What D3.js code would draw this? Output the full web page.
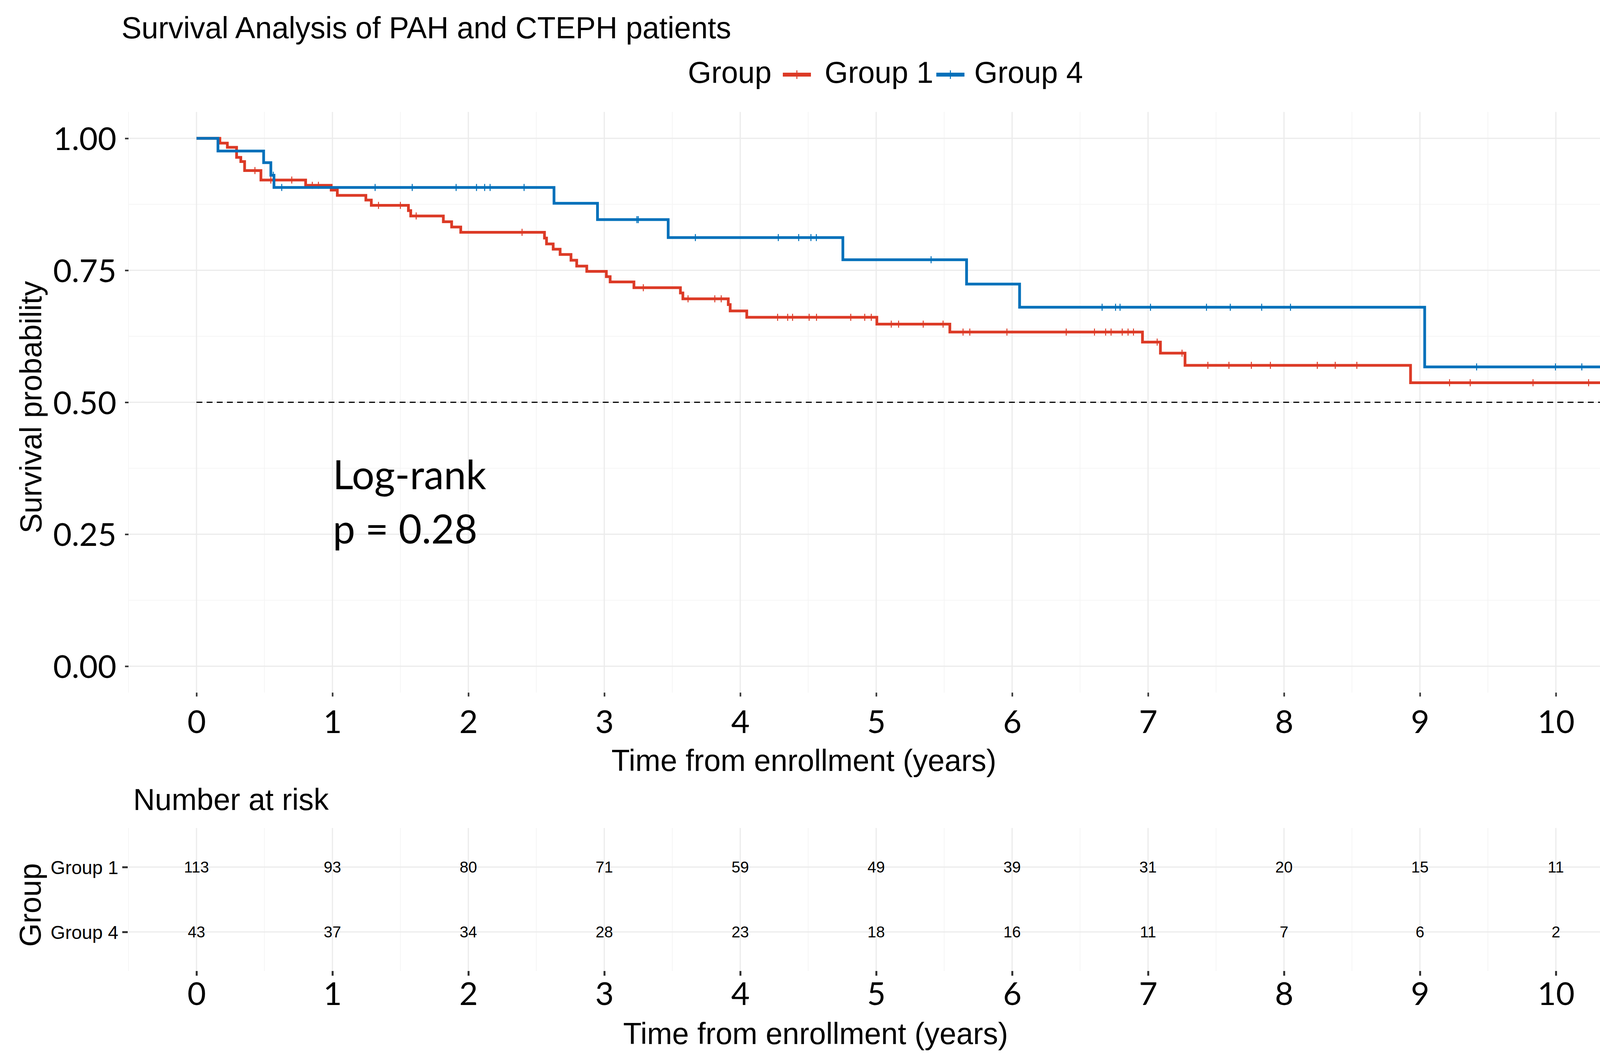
<!DOCTYPE html>
<html>
<head>
<meta charset="utf-8">
<script src="https://cdn.jsdelivr.net/npm/d3@7"></script>
<style>
  html, body { margin: 0; padding: 0; background: #fff; overflow: hidden; }
  svg { display: block; }
  .sans { font-family: 'Liberation Sans', Arial, sans-serif; }
  .num { font-family: Lato, 'Open Sans', sans-serif; }
</style>
</head>
<body>
<svg id="chart" width="4202" height="2723"></svg>
<script>
// ---- data ----
var groups = ['Group 1', 'Group 4'];
var colors = ['#DC3A26', '#0070BA'];

// Group 1 (PAH): event times (years) and survival after each drop
var g1Time = [0, 0.172, 0.227, 0.295, 0.326, 0.354, 0.474, 0.803, 0.991, 1.036, 1.246, 1.286, 1.559, 1.576,
  1.816, 1.877, 1.944, 2.560, 2.575, 2.624, 2.675, 2.755, 2.797, 2.871, 3.015, 3.043, 3.218, 3.560, 3.578,
  3.912, 3.926, 4.048, 5.005, 5.542, 6.959, 7.091, 7.272, 8.931];
var g1Surv = [1, 0.991, 0.983, 0.964, 0.956, 0.939, 0.921, 0.911, 0.902, 0.892, 0.883, 0.873, 0.863, 0.853,
  0.842, 0.832, 0.822, 0.811, 0.800, 0.790, 0.780, 0.769, 0.758, 0.748, 0.738, 0.728, 0.717, 0.707, 0.696,
  0.685, 0.673, 0.661, 0.648, 0.633, 0.614, 0.593, 0.570, 0.537];
var g1Censor = [0.430, 0.547, 0.701, 0.852, 0.897, 1.339, 1.50, 1.616, 2.395, 3.287, 3.616, 3.813, 3.860,
  4.275, 4.349, 4.385, 4.507, 4.561, 4.813, 4.916, 4.964, 5.111, 5.165, 5.346, 5.492, 5.639, 5.689, 5.962,
  6.398, 6.606, 6.688, 6.728, 6.810, 6.853, 6.893, 7.067, 7.25, 7.44, 7.595, 7.76, 7.90, 8.245, 8.377, 8.536,
  9.218, 9.370, 9.832, 10.241, 10.416, 10.458];

// Group 4 (CTEPH)
var g4Time = [0, 0.158, 0.494, 0.547, 0.570, 2.63, 2.95, 3.47, 4.755, 5.665, 6.055, 9.035];
var g4Surv = [1, 0.976, 0.954, 0.930, 0.907, 0.877, 0.846, 0.812, 0.770, 0.724, 0.680, 0.567];
var g4Censor = [0.565, 0.627, 1.314, 1.587, 1.91, 2.06, 2.12, 2.16, 2.41, 3.24, 3.25, 3.67, 4.28, 4.43,
  4.52, 4.56, 5.404, 6.662, 6.761, 6.794, 7.018, 7.43, 7.605, 7.836, 8.048, 9.417, 9.997, 10.191];

var lastTime = [10.5, 10.5];

var riskTimes = [0, 1, 2, 3, 4, 5, 6, 7, 8, 9, 10];
var g1Risk = [113, 93, 80, 71, 59, 49, 39, 31, 20, 15, 11];
var g4Risk = [43, 37, 34, 28, 23, 18, 16, 11, 7, 6, 2];

var xTicks = [0, 1, 2, 3, 4, 5, 6, 7, 8, 9, 10];
var yTicks = [0, 0.25, 0.5, 0.75, 1];
var medianLine = 0.5;
var testName = 'Log-rank', pText = 'p = 0.28';

var times = [g1Time, g4Time], survs = [g1Surv, g4Surv], censors = [g1Censor, g4Censor], risks = [g1Risk, g4Risk];

// ---- layout ----
var svg = d3.select('#chart');
var pLeft = 329, pRight = 4157, pTop = 286.5, pBottom = 1772.5;
var tTop = 2119, tBottom = 2485;
var major = '#EBEBEB', minor = '#F4F4F4';

var x = d3.scaleLinear().domain([-0.5, 10.5]).range([pLeft, pRight]);
var y = d3.scaleLinear().domain([-0.05, 1.05]).range([pBottom, pTop]);
var rowY = d3.scalePoint().domain(groups).range([2219, 2385]);

svg.append('rect').attr('width', 4202).attr('height', 2723).attr('fill', '#fff');

// title
svg.append('text').attr('class', 'sans').attr('x', 311).attr('y', 98)
  .attr('font-size', 77).text('Survival Analysis of PAH and CTEPH patients');

// legend
var legend = svg.append('g').attr('class', 'sans').attr('font-size', 77);
legend.append('text').attr('x', 1761).attr('y', 212).text('Group');
var keyX = [2004, 2397], labX = [2111, 2494];
groups.forEach(function(g, i) {
  legend.append('line').attr('x1', keyX[i]).attr('x2', keyX[i] + 72).attr('y1', 191).attr('y2', 191)
    .attr('stroke', colors[i]).attr('stroke-width', 10);
  legend.append('line').attr('x1', keyX[i] + 36).attr('x2', keyX[i] + 36).attr('y1', 180).attr('y2', 202)
    .attr('stroke', colors[i]).attr('stroke-width', 2.5);
  legend.append('text').attr('x', labX[i]).attr('y', 212).text(g);
});

// grid - survival panel
var grid = svg.append('g');
d3.range(-0.5, 10.6, 1).forEach(function(v) {
  grid.append('line').attr('x1', x(v)).attr('x2', x(v)).attr('y1', pTop).attr('y2', pBottom)
    .attr('stroke', minor).attr('stroke-width', 1.8);
});
[0.125, 0.375, 0.625, 0.875].forEach(function(v) {
  grid.append('line').attr('x1', pLeft).attr('x2', pRight).attr('y1', y(v)).attr('y2', y(v))
    .attr('stroke', minor).attr('stroke-width', 1.8);
});
xTicks.forEach(function(v) {
  grid.append('line').attr('x1', x(v)).attr('x2', x(v)).attr('y1', pTop).attr('y2', pBottom)
    .attr('stroke', major).attr('stroke-width', 3);
});
yTicks.forEach(function(v) {
  grid.append('line').attr('x1', pLeft).attr('x2', pRight).attr('y1', y(v)).attr('y2', y(v))
    .attr('stroke', major).attr('stroke-width', 3);
});

// median line
svg.append('line').attr('x1', x(0)).attr('x2', pRight).attr('y1', y(medianLine)).attr('y2', y(medianLine))
  .attr('stroke', '#000').attr('stroke-width', 3).attr('stroke-dasharray', '15,11');

// curves
svg.append('clipPath').attr('id', 'clip').append('rect')
  .attr('x', pLeft).attr('y', pTop).attr('width', pRight - pLeft).attr('height', pBottom - pTop);
var plot = svg.append('g').attr('clip-path', 'url(#clip)');
var line = d3.line().x(function(d) { return x(d[0]); }).y(function(d) { return y(d[1]); }).curve(d3.curveStepAfter);

function survAt(i, t) {
  var k = d3.bisectRight(times[i], t) - 1;
  return survs[i][Math.max(k, 0)];
}

groups.forEach(function(g, i) {
  var pts = times[i].map(function(t, k) { return [t, survs[i][k]]; });
  pts.push([lastTime[i], survs[i][survs[i].length - 1]]);
  plot.append('path').attr('d', line(pts)).attr('fill', 'none')
    .attr('stroke', colors[i]).attr('stroke-width', 7);
  plot.selectAll('.c' + i).data(censors[i]).enter().append('line')
    .attr('x1', function(d) { return x(d); }).attr('x2', function(d) { return x(d); })
    .attr('y1', function(d) { return y(survAt(i, d)) - 9; })
    .attr('y2', function(d) { return y(survAt(i, d)) + 9; })
    .attr('stroke', colors[i]).attr('stroke-width', 2.5);
});

// axes - survival panel
var yAxis = svg.append('g').attr('transform', 'translate(' + pLeft + ',0)')
  .call(d3.axisLeft(y).tickValues(yTicks).tickFormat(d3.format('.2f')).tickSize(9).tickPadding(22));
var xAxis = svg.append('g').attr('transform', 'translate(0,' + pBottom + ')')
  .call(d3.axisBottom(x).tickValues(xTicks).tickFormat(d3.format('d')).tickSize(10));
[yAxis, xAxis].forEach(function(a) {
  a.select('.domain').remove();
  a.selectAll('line').attr('stroke', '#333').attr('stroke-width', 4);
  a.selectAll('text').attr('class', 'num').attr('font-size', 82).attr('fill', '#000');
});
yAxis.selectAll('text').attr('dy', '0.36em');
xAxis.selectAll('text').attr('y', 103).attr('dy', null);

svg.append('text').attr('class', 'sans').attr('font-size', 77).attr('text-anchor', 'middle')
  .attr('x', 2058).attr('y', 1973).text('Time from enrollment (years)');
svg.append('text').attr('class', 'sans').attr('font-size', 77).attr('text-anchor', 'middle')
  .attr('transform', 'translate(106,1042) rotate(-90)').text('Survival probability');

// p-value annotation
var ann = svg.append('text').attr('class', 'num').attr('font-size', 102).attr('x', 852).attr('y', 1252);
ann.append('tspan').attr('x', 852).text(testName);
ann.append('tspan').attr('x', 852).attr('dy', 139).text(pText);

// ---- risk table ----
svg.append('text').attr('class', 'sans').attr('font-size', 77).attr('x', 341).attr('y', 2073).text('Number at risk');

var tg = svg.append('g');
d3.range(-0.5, 10.6, 1).forEach(function(v) {
  tg.append('line').attr('x1', x(v)).attr('x2', x(v)).attr('y1', tTop).attr('y2', tBottom)
    .attr('stroke', minor).attr('stroke-width', 1.8);
});
xTicks.forEach(function(v) {
  tg.append('line').attr('x1', x(v)).attr('x2', x(v)).attr('y1', tTop).attr('y2', tBottom)
    .attr('stroke', major).attr('stroke-width', 3);
});
groups.forEach(function(g) {
  tg.append('line').attr('x1', pLeft).attr('x2', pRight).attr('y1', rowY(g)).attr('y2', rowY(g))
    .attr('stroke', major).attr('stroke-width', 3);
});

groups.forEach(function(g, i) {
  tg.selectAll('.r' + i).data(riskTimes).enter().append('text')
    .attr('class', 'sans').attr('font-size', 40).attr('text-anchor', 'middle')
    .attr('dominant-baseline', 'central')
    .attr('x', function(d) { return x(d); }).attr('y', rowY(g))
    .text(function(d, k) { return risks[i][k]; });
});

var rAxis = svg.append('g').attr('transform', 'translate(' + (pLeft - 2) + ',0)')
  .call(d3.axisLeft(rowY).tickSize(14).tickPadding(10));
var bAxis = svg.append('g').attr('transform', 'translate(0,' + tBottom + ')')
  .call(d3.axisBottom(x).tickValues(xTicks).tickFormat(d3.format('d')).tickSize(12));
[rAxis, bAxis].forEach(function(a) {
  a.select('.domain').remove();
  a.selectAll('line').attr('stroke', '#333').attr('stroke-width', 5);
});
rAxis.selectAll('text').attr('class', 'sans').attr('font-size', 48).attr('fill', '#000').attr('dy', '0.36em');
bAxis.selectAll('text').attr('class', 'num').attr('font-size', 82).attr('fill', '#000').attr('y', 87).attr('dy', null);

svg.append('text').attr('class', 'sans').attr('font-size', 77).attr('text-anchor', 'middle')
  .attr('x', 2088).attr('y', 2672).text('Time from enrollment (years)');
svg.append('text').attr('class', 'sans').attr('font-size', 77).attr('text-anchor', 'middle')
  .attr('transform', 'translate(104,2316) rotate(-90)').text('Group');
</script>
</body>
</html>
